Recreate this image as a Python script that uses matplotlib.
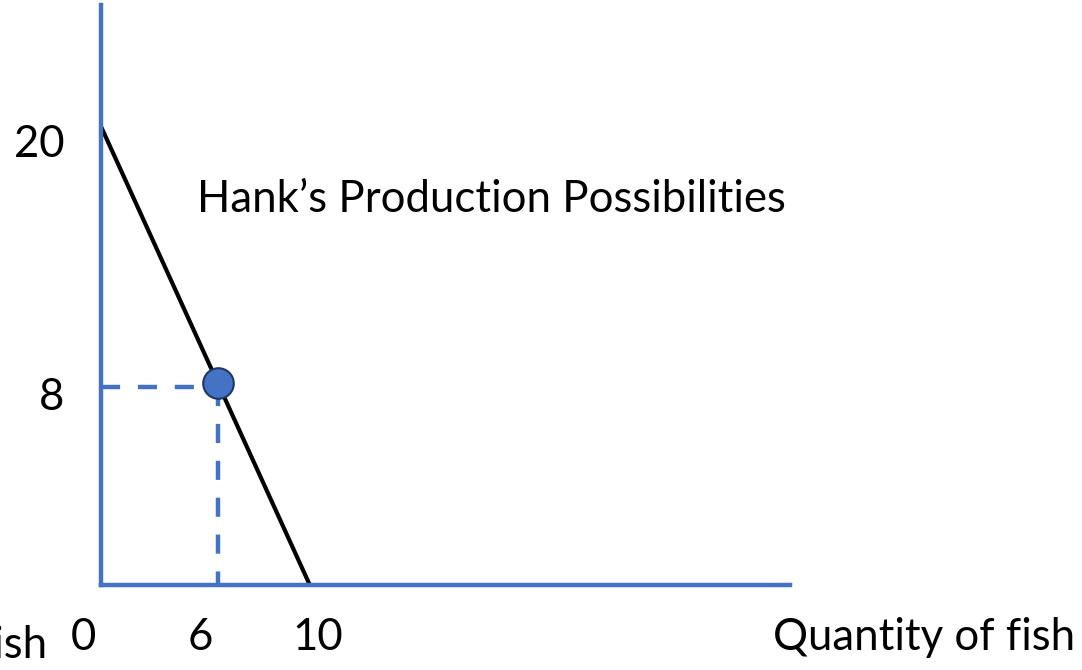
import numpy as np
import matplotlib
matplotlib.use("Agg")
from matplotlib import pyplot as plt

# production possibilities frontier (fish, other good)
ppf_fish = [0, 10]
ppf_other = [20, 0]
# chosen point
pt_fish = [5.6]
pt_other = [8.65]

tick_text = ["0", "6", "10"]
tick_text_x = [-0.86, 4.74, 10.38]
ytick_text = ["20", "8"]
ytick_text_y = [19.2, 8.2]

BLUE = "#4472C4"
FS = 31.5
plt.rcParams['font.family'] = ['Lato', 'DejaVu Sans']

fig = plt.figure(figsize=(10.82, 6.70), dpi=100)
ax = fig.add_axes([101/1082, 85/670, 689/1082, 580/670])
ax.set_xlim(0, 33)
ax.set_ylim(0, 25.3)
for s in ["top", "right"]:
    ax.spines[s].set_visible(False)
for s in ["left", "bottom"]:
    ax.spines[s].set_color(BLUE)
    ax.spines[s].set_linewidth(3.2)
ax.set_xticks([])
ax.set_yticks([])

ax.plot(ppf_fish, ppf_other, color="black", lw=3, solid_capstyle="butt", clip_on=False)
ax.plot([0, pt_fish[0]], [pt_other[0], pt_other[0]], color=BLUE, lw=3.2, dashes=(4.3, 4.0))
ax.plot([pt_fish[0], pt_fish[0]], [pt_other[0], 0], color=BLUE, lw=3.2, dashes=(4.3, 4.0))
ax.plot(pt_fish, [pt_other[0] + 0.15], "o", ms=22, mfc=BLUE, mec="#1F3864", mew=1.5, zorder=5)

for t, x in zip(tick_text, tick_text_x):
    ax.text(x, -2.31, t, ha="center", va="center", fontsize=FS, clip_on=False)
for t, y in zip(ytick_text, ytick_text_y):
    ax.text(-1.75, y, t, ha="right", va="center", fontsize=FS, clip_on=False)

ax.text(4.6, 16.8, "Hank\u2019s Production Possibilities", ha="left", va="center", fontsize=FS)
fig.text(1075/1082, 1 - 638/670, "Quantity of fish", ha="right", va="center", fontsize=FS)
fig.text(47/1082, 1 - 645/670, "Quantity of fish", ha="right", va="center", fontsize=FS)

fig.savefig("out.png", dpi=100)
